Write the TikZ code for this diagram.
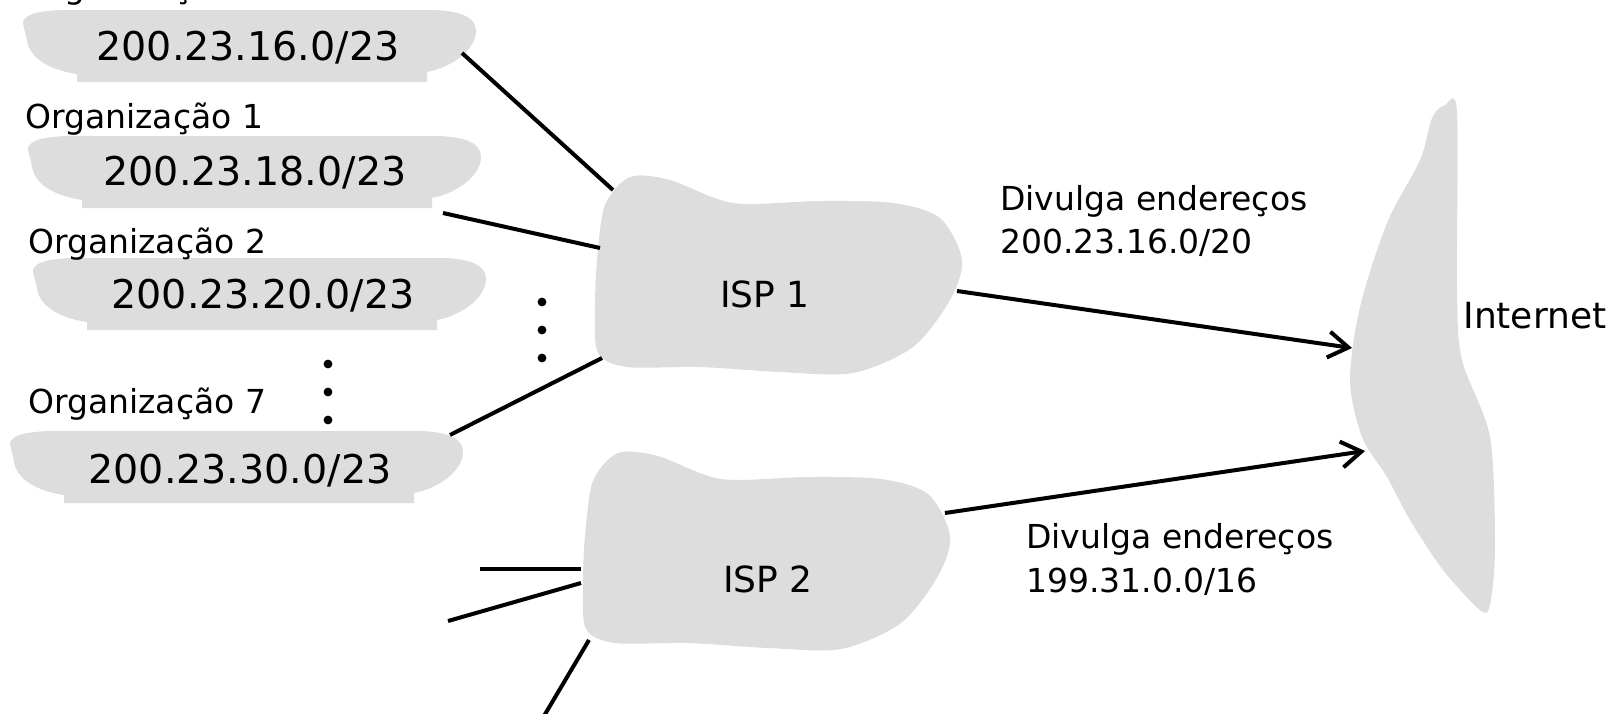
\documentclass[tikz,border=0pt]{standalone}
\usepackage{fontspec}
\setmainfont{DejaVu Sans}
\usetikzlibrary{arrows.meta}
\definecolor{blobgray}{RGB}{221,221,221}

\tikzset{
  netblob/.style={fill=blobgray},
  link/.style={line width=2pt},
  adv/.style={line width=2pt,-{Straight Barb[length=10pt,width=13pt]}},
  addr/.style={inner sep=0pt,anchor=base,font=\fontsize{19.8}{24}\selectfont},
  orglbl/.style={inner sep=0pt,anchor=base west,font=\fontsize{16.5}{20}\selectfont},
  isplbl/.style={inner sep=0pt,anchor=base,font=\fontsize{18}{22}\selectfont}
}

\newcommand{\orgcloud}[2]{%
  \fill [netblob,shift={(#1,#2)}] (0,13) .. controls (2,6) and (12,2) .. (40,1)
        -- (410,1) .. controls (445,2) and (453,12) .. (453,22)
        .. controls (453,40) and (430,58) .. (404,63) -- (404,73) -- (54,73)
        -- (54,65) .. controls (20,60) and (6,45) .. (4,32)
        .. controls (3,24) and (0,18) .. (0,13) -- cycle;}

\newcommand{\ispcloud}[2]{%
  \fill [netblob,shift={(#1,#2)}] plot [smooth cycle] coordinates {
        (630,177) (670,180) (733,203) (820,201) (893,203) (940,218) (962,260)
        (950,300) (913,347) (853,373) (780,372) (700,367) (627,367) (598,353)
        (595,310) (597,260) (605,205)};}

\begin{document}
\begin{tikzpicture}[x=0.5pt,y=-0.5pt]
    \useasboundingbox (0,0) rectangle (1618,713);

    % Draw the organisations
    \orgcloud{23}{9}
    \orgcloud{28}{135}
    \orgcloud{33}{257}
    \orgcloud{10}{430}
    \node [orglbl] (lbl0) at (25,-2) {Organização 0};
    \node [orglbl] (lbl1) at (25,128) {Organização 1};
    \node [orglbl] (lbl2) at (28,253) {Organização 2};
    \node [orglbl] (lbl7) at (28,413) {Organização 7};
    \node [addr] (org0) at (248,60) {200.23.16.0/23};
    \node [addr] (org1) at (255,185) {200.23.18.0/23};
    \node [addr] (org2) at (263,308) {200.23.20.0/23};
    \node [addr] (org7) at (240,483) {200.23.30.0/23};
    \foreach \y in {364,392,420} \fill (328,\y) circle (2.2pt);

    % Draw the ISPs and the Internet
    \ispcloud{0}{0}
    \ispcloud{-12}{276}
    \fill [netblob] plot [smooth cycle] coordinates {
          (1445,105) (1457,112) (1457,290) (1462,360) (1490,437) (1495,547)
          (1490,605) (1480,610) (1443,570) (1410,520) (1387,477) (1362,437)
          (1350,380) (1360,307) (1387,223) (1420,160) (1432,118)};
    \node [isplbl] (isp1) at (765,307) {ISP 1};
    \node [isplbl] (isp2) at (768,592) {ISP 2};
    \node [isplbl,anchor=base west] (net) at (1463,328) {Internet};
    \foreach \y in {302,330,358} \fill (542,\y) circle (2.2pt);

    % Connector ends
    \coordinate (o0) at (462,53);   \coordinate (i1a) at (613,190);
    \coordinate (o1) at (443,213);  \coordinate (i1b) at (600,248);
    \coordinate (o7) at (450,435);  \coordinate (i1c) at (602,358);
    \coordinate (i1out) at (957,291); \coordinate (net1) at (1352,348);
    \coordinate (i2out) at (945,513); \coordinate (net2) at (1365,451);
    \coordinate (x1) at (480,569);  \coordinate (i2a) at (581,569);
    \coordinate (x2) at (448,621);  \coordinate (i2b) at (581,583);
    \coordinate (x3) at (541,721);  \coordinate (i2c) at (589,640);

    \draw [link] (o0) -- (i1a);
    \draw [link] (o1) -- (i1b);
    \draw [link] (o7) -- (i1c);
    \draw [link] (x1) -- (i2a);
    \draw [link] (x2) -- (i2b);
    \draw [link] (x3) -- (i2c);
    \draw [adv] (i1out) -- (net1);
    \draw [adv] (i2out) -- (net2);

    % Advertisements
    \node [orglbl] (adv1) at (1000,210) {Divulga endereços};
    \node [orglbl] (adv1b) at (1000,253) {200.23.16.0/20};
    \node [orglbl] (adv2) at (1026,548) {Divulga endereços};
    \node [orglbl] (adv2b) at (1026,592) {199.31.0.0/16};

\end{tikzpicture}
\end{document}
